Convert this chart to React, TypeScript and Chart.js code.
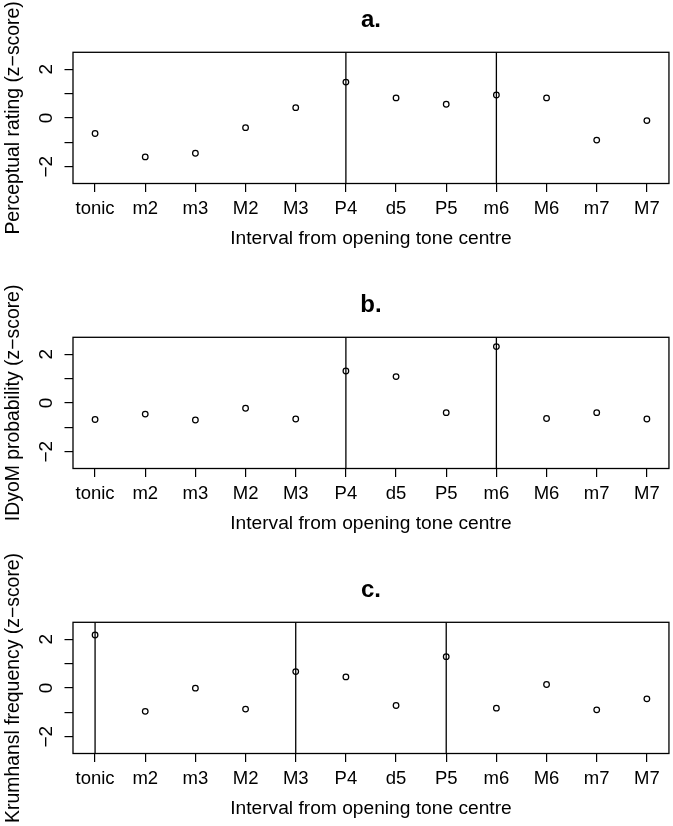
import React, { useEffect, useRef } from "react";
import { Chart, registerables } from "chart.js";

Chart.register(...registerables);

const categories = ["tonic", "m2", "m3", "M2", "M3", "P4", "d5", "P5", "m6", "M6", "m7", "M7"];
const perceptualRating = [-0.64, -1.6, -1.45, -0.4, 0.42, 1.47, 0.82, 0.56, 0.94, 0.82, -0.91, -0.11];
const idyomProbability = [-0.68, -0.46, -0.7, -0.22, -0.66, 1.31, 1.08, -0.4, 2.31, -0.64, -0.4, -0.66];
const krumhanslFrequency = [2.17, -0.96, -0.01, -0.87, 0.67, 0.45, -0.72, 1.28, -0.83, 0.14, -0.9, -0.45];
const linesA = ["P4", "m6"];
const linesB = ["P4", "m6"];
const linesC = ["tonic", "M3", "P5"];
const yTickValues = [-2, -1, 0, 1, 2];
const yTickLabels = ["\u22122", "", "0", "", "2"];
const xTitle = "Interval from opening tone centre";
const yTitleA = "Perceptual rating (z\u2212score)";
const yTitleB = "IDyoM probability (z\u2212score)";
const yTitleC = "Krumhansl frequency (z\u2212score)";

const Y_MIN = -2.69;
const Y_MAX = 2.69;
const X_MIN = -0.44;
const X_MAX = categories.length - 1 + 0.44;

const FONT = "'Liberation Sans', Arial, Helvetica, sans-serif";
const W = 673;
const EXTRA = 40;
const H = 256 + EXTRA;
const PLOT_BOTTOM = 183.5 + EXTRA;

type PanelProps = {
  title: string;
  yLabel: string;
  values: number[];
  lines: string[];
  top: number;
};

const boxPlugin = {
  id: "rbox",
  afterDraw(chart: any) {
    const { ctx, chartArea, scales } = chart;
    ctx.save();
    ctx.strokeStyle = "#000";
    ctx.lineWidth = 1.3;
    ctx.strokeRect(chartArea.left, chartArea.top, chartArea.right - chartArea.left, chartArea.bottom - chartArea.top);
    ctx.fillStyle = "#000";
    ctx.font = `19px ${FONT}`;
    ctx.textAlign = "center";
    ctx.textBaseline = "alphabetic";
    yTickValues.forEach((v, i) => {
      const label = yTickLabels[i];
      if (!label) return;
      const y = scales.y.getPixelForValue(v);
      ctx.save();
      ctx.translate(51.5, y);
      ctx.rotate(-Math.PI / 2);
      ctx.fillText(label, 0, 0);
      ctx.restore();
    });
    ctx.restore();
  },
};

function Panel({ title, yLabel, values, lines, top }: PanelProps) {
  const ref = useRef<HTMLCanvasElement | null>(null);
  useEffect(() => {
    if (!ref.current) return;
    const grid = {
      drawOnChartArea: false,
      drawTicks: true,
      tickLength: 8.5,
      color: "#000",
      lineWidth: 1.2,
    };
    const chart = new Chart(ref.current, {
      type: "scatter",
      data: {
        datasets: [
          {
            type: "scatter",
            data: values.map((v, i) => ({ x: i, y: v })),
            pointStyle: "circle",
            pointRadius: 2.8,
            pointHoverRadius: 2.8,
            pointBorderWidth: 1.25,
            borderColor: "#000",
            backgroundColor: "rgba(0,0,0,0)",
          } as any,
          ...lines.map((name) => {
            const idx = categories.indexOf(name);
            return {
              type: "line",
              data: [
                { x: idx, y: Y_MIN },
                { x: idx, y: Y_MAX },
              ],
              borderColor: "#000",
              borderWidth: 1.3,
              pointRadius: 0,
              pointHoverRadius: 0,
              showLine: true,
              fill: false,
            } as any;
          }),
        ],
      },
      options: {
        animation: false,
        responsive: false,
        devicePixelRatio: 1,
        events: [],
        layout: { padding: { left: 0, right: 4, top: 0, bottom: 0 } },
        plugins: {
          legend: { display: false },
          tooltip: { enabled: false },
          title: {
            display: true,
            fullSize: false,
            text: title,
            color: "#000",
            font: { family: FONT, size: 24, weight: "bold" },
            padding: { top: 4 + EXTRA + 2, bottom: 17.5 },
          },
        },
        scales: {
          x: {
            type: "linear",
            min: X_MIN,
            max: X_MAX,
            afterBuildTicks: (s: any) => {
              s.ticks = categories.map((_, i) => ({ value: i }));
            },
            afterFit: (s: any) => {
              s.height = H - PLOT_BOTTOM;
            },
            ticks: {
              autoSkip: false,
              maxRotation: 0,
              minRotation: 0,
              padding: 5.5,
              color: "#000",
              font: { family: FONT, size: 18.5 },
              callback: (v: any) => categories[Math.round(Number(v))] ?? "",
            },
            grid,
            border: { display: false },
            title: {
              display: true,
              text: xTitle,
              color: "#000",
              font: { family: FONT, size: 19.2 },
              padding: { top: 0, bottom: 5.5 },
            },
          },
          y: {
            type: "linear",
            min: Y_MIN,
            max: Y_MAX,
            afterBuildTicks: (s: any) => {
              s.ticks = yTickValues.map((v) => ({ value: v }));
            },
            afterFit: (s: any) => {
              s.width = 73;
            },
            ticks: { display: false },
            grid,
            border: { display: false },
            title: {
              display: true,
              text: yLabel,
              color: "#000",
              font: { family: FONT, size: 19.4 },
              padding: { top: 1.6, bottom: 0 },
            },
          },
        },
      } as any,
      plugins: [boxPlugin],
    });
    return () => chart.destroy();
  }, [title, yLabel, values, lines]);

  return (
    <canvas
      ref={ref}
      width={W}
      height={H}
      style={{ position: "absolute", left: 0, top, width: W, height: H, display: "block" }}
    />
  );
}

export default function App() {
  return (
    <div
      style={{
        position: "absolute",
        left: 0,
        top: 0,
        width: W,
        height: 826,
        overflow: "hidden",
        background: "#fff",
      }}
    >
      <Panel title="a." yLabel={yTitleA} values={perceptualRating} lines={linesA} top={0 - EXTRA} />
      <Panel title="b." yLabel={yTitleB} values={idyomProbability} lines={linesB} top={285 - EXTRA} />
      <Panel title="c." yLabel={yTitleC} values={krumhanslFrequency} lines={linesC} top={570.4 - EXTRA} />
    </div>
  );
}
